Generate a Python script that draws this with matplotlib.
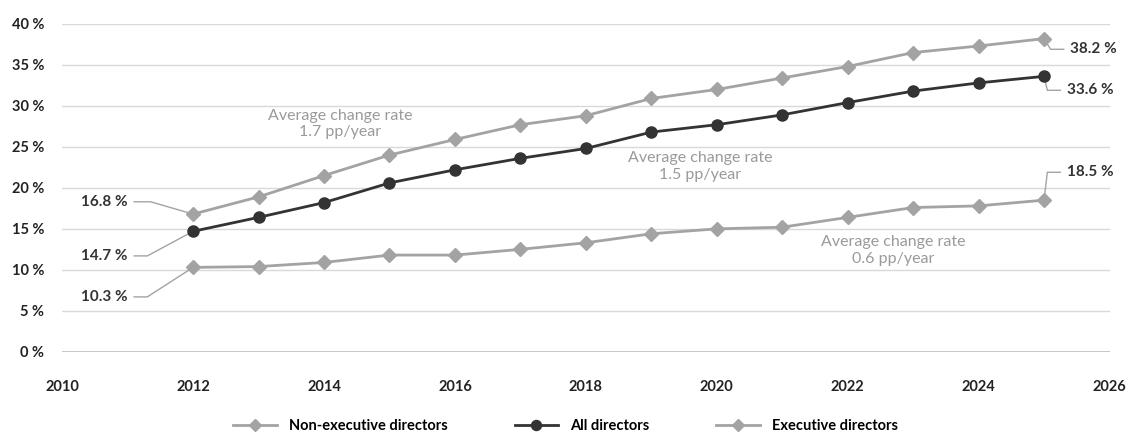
import matplotlib
matplotlib.use("Agg")
import matplotlib.pyplot as plt

plt.rcParams['font.family'] = ['Lato', 'DejaVu Sans']

years = list(range(2012, 2026))
non_exec = [16.8, 18.9, 21.5, 24.0, 25.9, 27.7, 28.8, 30.9, 32.0, 33.4, 34.8, 36.5, 37.3, 38.2]
all_dirs = [14.7, 16.4, 18.2, 20.6, 22.2, 23.6, 24.8, 26.8, 27.7, 28.9, 30.4, 31.8, 32.8, 33.6]
executive = [10.3, 10.4, 10.9, 11.8, 11.8, 12.5, 13.3, 14.4, 15.0, 15.2, 16.4, 17.6, 17.8, 18.5]
yticks = [0, 5, 10, 15, 20, 25, 30, 35, 40]
xticks = [2010, 2012, 2014, 2016, 2018, 2020, 2022, 2024, 2026]

gray = '#a3a3a3'
dark = '#333333'
txt_gray = '#9a9a9a'

fig = plt.figure(figsize=(11.31, 4.42), dpi=100)
ax = fig.add_axes([0.055, 0.204, 0.926, 0.742])

ax.plot(years, non_exec, color=gray, lw=2, marker='D', ms=7, label='Non-executive directors', zorder=3)
ax.plot(years, all_dirs, color=dark, lw=2, marker='o', ms=8, label='All directors', zorder=4)
ax.plot(years, executive, color=gray, lw=2, marker='D', ms=7, label='Executive directors', zorder=3)

ax.set_xlim(2010, 2026)
ax.set_ylim(0, 40)
ax.set_xticks(xticks)
ax.set_yticks(yticks)
ax.set_yticklabels(['%d %%' % v for v in yticks])
ax.grid(axis='y', color='#d9d9d9', lw=1)
ax.set_axisbelow(True)
for s in ax.spines.values():
    s.set_visible(False)
ax.axhline(0, color='#bfbfbf', lw=1.2, zorder=1)
ax.tick_params(length=0, labelsize=10.5, colors='#222222')
ax.tick_params(axis='x', pad=20)
ax.tick_params(axis='y', pad=13)
for lab in ax.get_xticklabels() + ax.get_yticklabels():
    lab.set_fontweight('bold')

lab_kw = dict(fontsize=11, fontweight='bold', color='#333333', va='center')

# start labels
lead = dict(color=gray, lw=1)
ax.text(2011.0, 18.3, '16.8 %', ha='right', **lab_kw)
ax.plot([2011.1, 2011.35, 2012], [18.3, 18.3, non_exec[0]], **lead)
ax.text(2011.0, 11.7, '14.7 %', ha='right', **lab_kw)
ax.plot([2011.1, 2011.3, 2012], [11.7, 11.7, all_dirs[0]], **lead)
ax.text(2011.0, 6.7, '10.3 %', ha='right', **lab_kw)
ax.plot([2011.1, 2011.3, 2012], [6.7, 6.7, executive[0]], **lead)

# end labels
ax.text(2025.4, 36.9, '38.2 %', ha='left', **lab_kw)
ax.plot([2025, 2025.1, 2025.3], [non_exec[-1], 36.9, 36.9], **lead)
ax.text(2025.35, 31.9, '33.6 %', ha='left', **lab_kw)
ax.plot([2025, 2025.05, 2025.25], [all_dirs[-1], 31.9, 31.9], **lead)
ax.text(2025.35, 21.9, '18.5 %', ha='left', **lab_kw)
ax.plot([2025, 2025.05, 2025.25], [executive[-1], 21.9, 21.9], **lead)

# rate annotations
ann_kw = dict(ha='center', va='center', fontsize=11.5, color=txt_gray, linespacing=1.25)
ax.text(2014.25, 27.8, 'Average change rate\n1.7 pp/year', **ann_kw)
ax.text(2019.75, 22.6, 'Average change rate\n1.5 pp/year', **ann_kw)
ax.text(2022.7, 12.4, 'Average change rate\n0.6 pp/year', **ann_kw)

leg = fig.legend(loc='lower center', bbox_to_anchor=(0.5, -0.01), ncol=3, frameon=False,
                 fontsize=10.5, columnspacing=4.6, handlelength=3.0, markerscale=0.9)
for t in leg.get_texts():
    t.set_fontweight('bold')

fig.savefig('out.png', dpi=100)
